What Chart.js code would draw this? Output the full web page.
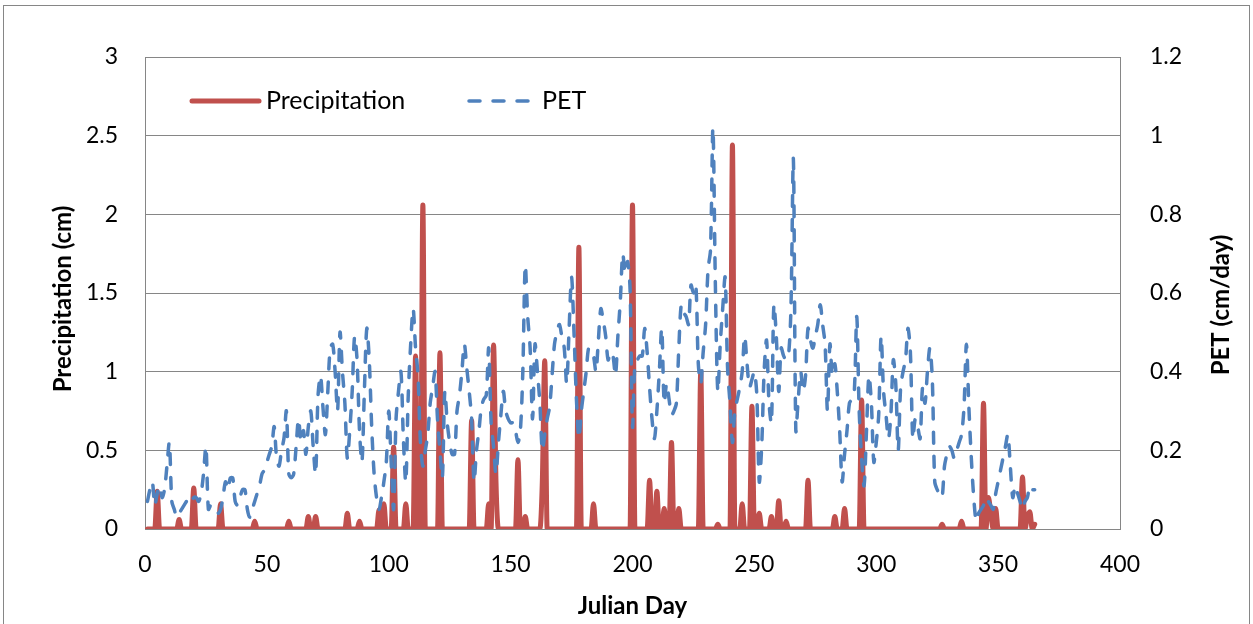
<!DOCTYPE html>
<html><head><meta charset="utf-8">
<script src="https://cdn.jsdelivr.net/npm/chart.js@4.4.0/dist/chart.umd.min.js"></script>
<style>html,body{margin:0;padding:0;background:#fff;}canvas{display:block;}</style>
</head><body>
<canvas id="c" width="1253" height="624"></canvas>
<script>
// Julian day 1..365
const days = Array.from({length: 365}, (_, i) => i + 1);

// Precipitation (cm), one value per day
const precipitation = [
0,0,0,0,0.24,0,0,0,0,0,
0,0,0,0.06,0,0,0,0,0,0.26,
0,0,0,0,0,0,0,0,0,0,
0.16,0,0,0,0,0,0,0,0,0,
0,0,0,0,0.05,0,0,0,0,0,
0,0,0,0,0,0,0,0,0.05,0,
0,0,0,0,0,0,0.08,0,0,0.08,
0,0,0,0,0,0,0,0,0,0,
0,0,0.10,0,0,0,0,0.05,0,0,
0,0,0,0,0,0.12,0,0.16,0,0,
0,0.52,0,0,0,0,0.16,0,0,0,
1.10,0,0,2.06,0,0,0,0,0,0,
1.12,0,0,0,0,0,0,0,0,0,
0,0,0,0.69,0,0,0,0,0,0,
0.16,0,1.17,0.30,0,0,0,0,0,0,
0,0,0.44,0,0,0.08,0,0,0,0,
0,0,0.30,1.07,0,0,0,0,0,0,
0,0,0,0,0,0,0,1.79,0,0,
0,0,0,0.16,0,0,0,0,0,0,
0,0,0,0,0,0,0,0,0,2.06,
0,0,0,0,0,0,0.31,0,0,0.24,
0,0,0.13,0,0,0.55,0,0,0.13,0,
0,0,0,0,0,0,0,1.00,0,0,
0,0,0,0,0.03,0,0,0,0,0,
2.44,0,0,0,0.16,0,0,0,0.78,0,
0,0.10,0,0,0,0,0.08,0,0,0.18,
0,0,0.05,0,0,0,0,0,0,0,
0,0.31,0,0,0,0,0,0,0,0,
0,0,0.08,0,0,0,0.13,0,0,0,
0,0,0,0.82,0,0,0,0,0,0,
0,0,0,0,0,0,0,0,0,0,
0,0,0,0,0,0,0,0,0,0,
0,0,0,0,0,0,0.03,0,0,0,
0,0,0,0,0.05,0,0,0,0,0,
0,0,0,0.80,0,0.20,0.10,0,0.13,0,
0,0,0,0,0,0,0,0,0,0.33,
0,0.08,0.11,0,0.03
];

// PET (cm/day), one value per day
const pet = [
0.07,0.10,0.12,0.06,0.09,0.11,0.08,0.10,0.16,0.22,
0.07,0.05,0.03,0.04,0.05,0.06,0.07,0.08,0.07,0.08,
0.08,0.07,0.09,0.14,0.21,0.05,0.06,0.05,0.05,0.04,
0.05,0.08,0.12,0.10,0.13,0.13,0.07,0.06,0.08,0.10,
0.10,0.05,0.03,0.05,0.07,0.09,0.11,0.14,0.15,0.17,
0.19,0.21,0.26,0.18,0.16,0.20,0.23,0.30,0.14,0.13,
0.14,0.21,0.28,0.22,0.25,0.19,0.26,0.30,0.21,0.14,
0.34,0.39,0.31,0.24,0.35,0.46,0.47,0.40,0.30,0.50,
0.40,0.32,0.18,0.25,0.35,0.49,0.43,0.25,0.17,0.35,
0.51,0.43,0.26,0.14,0.08,0.05,0.08,0.12,0.17,0.30,
0.17,0.05,0.28,0.35,0.40,0.23,0.12,0.34,0.47,0.56,
0.46,0.39,0.22,0.16,0.20,0.24,0.32,0.36,0.40,0.28,
0.20,0.13,0.35,0.27,0.22,0.19,0.19,0.30,0.34,0.40,
0.47,0.41,0.35,0.28,0.12,0.20,0.25,0.31,0.33,0.34,
0.46,0.27,0.21,0.14,0.22,0.29,0.35,0.30,0.28,0.27,
0.27,0.25,0.22,0.25,0.40,0.67,0.54,0.46,0.28,0.47,
0.40,0.32,0.20,0.24,0.28,0.31,0.39,0.47,0.50,0.52,
0.49,0.46,0.37,0.51,0.64,0.50,0.33,0.23,0.30,0.35,
0.40,0.46,0.45,0.44,0.40,0.48,0.56,0.53,0.49,0.43,
0.45,0.44,0.39,0.49,0.58,0.70,0.65,0.68,0.61,0.26,
0.42,0.43,0.44,0.44,0.51,0.45,0.36,0.28,0.23,0.30,
0.40,0.51,0.32,0.37,0.33,0.29,0.30,0.32,0.46,0.57,
0.55,0.54,0.52,0.62,0.60,0.62,0.42,0.37,0.45,0.52,
0.66,0.71,1.02,0.62,0.35,0.47,0.56,0.64,0.41,0.32,
0.22,0.30,0.33,0.36,0.40,0.49,0.42,0.36,0.38,0.40,
0.34,0.12,0.21,0.40,0.48,0.32,0.27,0.57,0.49,0.35,
0.46,0.44,0.43,0.44,0.56,0.94,0.25,0.33,0.40,0.35,
0.39,0.51,0.48,0.46,0.49,0.52,0.57,0.52,0.47,0.30,
0.47,0.39,0.42,0.35,0.25,0.12,0.19,0.25,0.32,0.33,
0.35,0.54,0.30,0.18,0.11,0.25,0.39,0.32,0.17,0.22,
0.29,0.49,0.35,0.29,0.23,0.29,0.43,0.37,0.20,0.36,
0.40,0.43,0.51,0.45,0.23,0.28,0.26,0.23,0.36,0.32,
0.40,0.46,0.38,0.12,0.10,0.09,0.08,0.16,0.19,0.21,
0.20,0.18,0.20,0.22,0.24,0.31,0.47,0.31,0.18,0.08,
0.02,0.04,0.05,0.06,0.08,0.07,0.06,0.05,0.09,0.12,
0.15,0.18,0.21,0.24,0.16,0.08,0.11,0.09,0.07,0.05,
0.07,0.08,0.11,0.10,0.10
];

const xTickValues = [0, 50, 100, 150, 200, 250, 300, 350, 400];
const precipTickValues = [0, 0.5, 1, 1.5, 2, 2.5, 3];
const petTickValues = [0, 0.2, 0.4, 0.6, 0.8, 1, 1.2];

const seriesNames = ['Precipitation', 'PET'];
const titles = {x: 'Julian Day', left: 'Precipitation (cm)', right: 'PET (cm/day)'};

const RED = '#C0504D', BLUE = '#4F81BD', GRID = '#868686';
const FONT = 'Lato, "Liberation Sans", sans-serif';
const fmt = v => String(Math.round(v * 10) / 10);

const decor = {
  id: 'decor',
  beforeDraw(chart) {
    const ctx = chart.ctx;
    ctx.save();
    ctx.fillStyle = '#fff';
    ctx.fillRect(0, 0, chart.width, chart.height);
    ctx.strokeStyle = GRID;
    ctx.lineWidth = 1;
    ctx.strokeRect(3.5, 5.5, 1246, 700);
    ctx.restore();
  },
  afterDraw(chart) {
    const ctx = chart.ctx;
    const a = chart.chartArea;
    ctx.save();
    // axis titles
    ctx.fillStyle = '#000';
    ctx.font = 'bold 24px ' + FONT;
    ctx.textAlign = 'center';
    ctx.textBaseline = 'middle';
    ctx.fillText(titles.x, (a.left + a.right) / 2, 606);
    ctx.save();
    ctx.translate(63, (a.top + a.bottom) / 2 + 6);
    ctx.rotate(-Math.PI / 2);
    ctx.fillText(titles.left, 0, 0);
    ctx.restore();
    ctx.save();
    ctx.translate(1221, (a.top + a.bottom) / 2 + 12);
    ctx.rotate(-Math.PI / 2);
    ctx.fillText(titles.right, 0, 0);
    ctx.restore();
    // legend
    ctx.font = '25px ' + FONT;
    ctx.textAlign = 'left';
    ctx.lineCap = 'round';
    ctx.strokeStyle = RED;
    ctx.lineWidth = 5;
    ctx.beginPath(); ctx.moveTo(192, 101); ctx.lineTo(259, 101); ctx.stroke();
    ctx.fillText(seriesNames[0], 266, 101);
    ctx.strokeStyle = BLUE;
    ctx.lineWidth = 3.5;
    ctx.setLineDash([11, 13]);
    ctx.beginPath(); ctx.moveTo(469, 101); ctx.lineTo(535, 101); ctx.stroke();
    ctx.setLineDash([]);
    ctx.fillText(seriesNames[1], 542, 101);
    ctx.restore();
  }
};

new Chart(document.getElementById('c'), {
  type: 'line',
  data: {
    datasets: [
      {
        label: seriesNames[1],
        data: days.map((d, i) => ({x: d, y: pet[i]})),
        yAxisID: 'yPet',
        borderColor: BLUE,
        borderWidth: 3.5,
        borderDash: [11, 13],
        borderCapStyle: 'round',
        borderJoinStyle: 'round',
        pointRadius: 0,
        tension: 0.3,
        order: 0
      },
      {
        label: seriesNames[0],
        data: days.map((d, i) => ({x: d, y: precipitation[i]})),
        yAxisID: 'yPrecip',
        borderColor: RED,
        borderWidth: 5,
        borderCapStyle: 'round',
        borderJoinStyle: 'round',
        pointRadius: 0,
        tension: 0.3,
        cubicInterpolationMode: 'monotone',
        order: 1
      }
    ]
  },
  options: {
    responsive: false,
    animation: false,
    devicePixelRatio: 1,
    layout: {padding: {top: 57, left: 0, right: 0, bottom: 0}},
    plugins: {legend: {display: false}, tooltip: {enabled: false}},
    scales: {
      x: {
        type: 'linear', min: 0, max: 400,
        afterFit(s) { s.height = 95; },
        afterBuildTicks(s) { s.ticks = xTickValues.map(v => ({value: v})); },
        grid: {display: false, drawTicks: false},
        border: {display: true, color: GRID, width: 1},
        ticks: {padding: 22, color: '#000', font: {family: FONT, size: 23}, maxRotation: 0, callback: fmt}
      },
      yPrecip: {
        type: 'linear', position: 'left', min: 0, max: 3,
        afterFit(s) { s.width = 145; },
        afterBuildTicks(s) { s.ticks = precipTickValues.map(v => ({value: v})); },
        grid: {color: GRID, lineWidth: 1, drawTicks: false},
        border: {display: true, color: GRID, width: 1},
        ticks: {padding: 27, color: '#000', font: {family: FONT, size: 23}, callback: fmt}
      },
      yPet: {
        type: 'linear', position: 'right', min: 0, max: 1.2,
        afterFit(s) { s.width = 133; },
        afterBuildTicks(s) { s.ticks = petTickValues.map(v => ({value: v})); },
        grid: {display: false, drawTicks: false},
        border: {display: true, color: GRID, width: 1},
        ticks: {padding: 30, color: '#000', font: {family: FONT, size: 23}, callback: fmt}
      }
    }
  },
  plugins: [decor]
});
</script>
</body></html>
